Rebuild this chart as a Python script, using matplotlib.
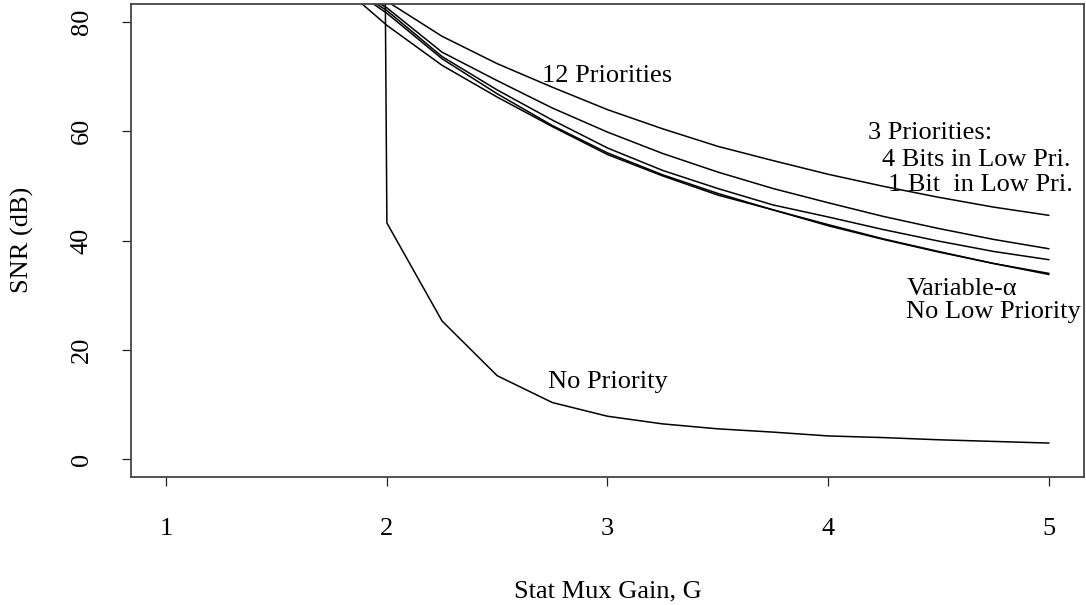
import matplotlib
matplotlib.use("Agg")
import matplotlib.pyplot as plt

plt.rcParams['font.family'] = ['Liberation Serif', 'DejaVu Serif']

G = [1.75, 1.99, 2.0, 2.25, 2.5, 2.75, 3.0, 3.25, 3.5, 3.75, 4.0, 4.25, 4.5, 4.75, 5.0]
G_pri = [1.75, 2.0, 2.25, 2.5, 2.75, 3.0, 3.25, 3.5, 3.75, 4.0, 4.25, 4.5, 4.75, 5.0]

snr_12pri = [91.0, 83.7, 77.3, 72.3, 68.0, 63.9, 60.4, 57.2, 54.6, 52.1, 49.9, 47.9, 46.1, 44.6]
snr_3pri_4bit = [88.5, 82.5, 74.4, 69.2, 64.2, 59.8, 55.9, 52.5, 49.5, 46.9, 44.4, 42.2, 40.2, 38.5]
snr_3pri_1bit = [88.5, 82.0, 73.6, 67.5, 62.0, 56.9, 52.8, 49.5, 46.5, 44.3, 42.0, 39.9, 38.0, 36.5]
snr_var_alpha = [88.5, 81.5, 73.2, 66.8, 61.0, 56.0, 52.0, 48.6, 45.6, 42.9, 40.3, 38.0, 35.8, 34.0]
snr_no_low = [88.0, 79.3, 72.0, 66.2, 60.8, 55.7, 51.8, 48.3, 45.6, 42.7, 40.2, 37.9, 35.8, 33.8]
snr_no_pri = [100.0, 100.0, 43.2, 25.3, 15.3, 10.4, 7.9, 6.5, 5.6, 5.0, 4.3, 4.0, 3.6, 3.3, 3.0]

x_ticks = [1, 2, 3, 4, 5]
y_ticks = [0, 20, 40, 60, 80]

labels = [
    (3.0, 70.0, "12 Priorities", 'center'),
    (4.46, 59.6, "3 Priorities:", 'center'),
    (4.67, 54.7, "4 Bits in Low Pri.", 'center'),
    (4.69, 50.2, "1 Bit  in Low Pri.", 'center'),
    (4.355, 31.1, "Variable-\u03b1", 'left'),
    (4.75, 26.9, "No Low Priority", 'center'),
    (3.0, 14.2, "No Priority", 'center'),
]

fig = plt.figure(figsize=(10.86, 6.05), dpi=100)
ax = fig.add_axes([131/1086, 128/605, (1084-131)/1086, (477-4)/605])

lw = 1.1
for ys in [snr_12pri, snr_3pri_4bit, snr_3pri_1bit, snr_var_alpha, snr_no_low]:
    ax.plot(G_pri, ys, color='black', lw=lw)
ax.plot(G, snr_no_pri, color='black', lw=lw)

ax.set_xlim(0.84, 5.16)
ax.set_ylim(-3.2, 83.2)
ax.set_xticks(x_ticks)
ax.set_yticks(y_ticks)
ax.set_xticklabels([str(v) for v in x_ticks])
ax.set_yticklabels([str(v) for v in y_ticks], rotation=90, va='center')
ax.tick_params(axis='both', labelsize=19, length=6.5, width=0.9, color='#222222')
ax.tick_params(axis='x', pad=23)
ax.tick_params(axis='y', pad=21)
for s in ax.spines.values():
    s.set_linewidth(1.3)
    s.set_color('#444444')

for x, y, t, ha in labels:
    ax.text(x, y, t, fontsize=19, ha=ha, va='center')

fig.text(608/1086, 1 - 591/605, "Stat Mux Gain, G", fontsize=19, ha='center', va='center')
fig.text(22/1086, 1 - 240/605, "SNR (dB)", fontsize=19, ha='center', va='center', rotation=90)

fig.savefig("out.png", dpi=100)
